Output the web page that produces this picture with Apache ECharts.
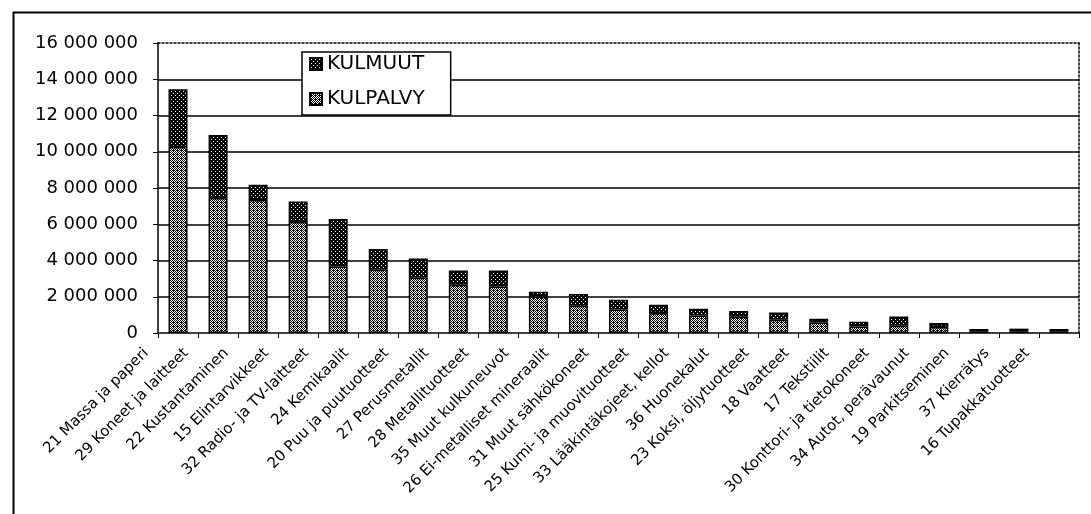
<!DOCTYPE html>
<html>
<head>
<meta charset="utf-8">
<script src="https://cdn.jsdelivr.net/npm/echarts@6/dist/echarts.min.js"></script>
<style>
  html, body { margin: 0; padding: 0; background: #fff; }
  #main { width: 1091px; height: 514px; }
</style>
</head>
<body>
<div id="main"></div>
<script>
// toimialat, järjestetty summan mukaan
var categories = [
  '21 Massa ja paperi', '29 Koneet ja laitteet', '22 Kustantaminen', '15 Elintarvikkeet',
  '32 Radio- ja TV-laitteet', '24 Kemikaalit', '20 Puu ja puutuotteet', '27 Perusmetallit',
  '28 Metallituotteet', '35 Muut kulkuneuvot', '26 Ei-metalliset mineraalit', '31 Muut sähkökoneet',
  '25 Kumi- ja muovituotteet', '33 Lääkintäkojeet, kellot', '36 Huonekalut', '23 Koksi, öljytuotteet',
  '18 Vaatteet', '17 Tekstiilit', '30 Konttori- ja tietokoneet', '34 Autot, perävaunut',
  '19 Parkitseminen', '37 Kierrätys', '16 Tupakkatuotteet'
];
var kulpalvy = [10260000, 7450000, 7340000, 6130000, 3670000, 3490000, 3050000, 2660000,
  2570000, 2020000, 1500000, 1300000, 1100000, 970000, 900000, 730000,
  580000, 360000, 400000, 330000, 100000, 100000, 100000];
var kulmuut = [3190000, 3470000, 840000, 1120000, 2620000, 1150000, 1060000, 790000,
  880000, 250000, 650000, 530000, 460000, 370000, 310000, 400000,
  210000, 260000, 510000, 220000, 120000, 140000, 120000];
var yTicks = [0, 2000000, 4000000, 6000000, 8000000, 10000000, 12000000, 14000000, 16000000];

function makePattern(dark) {
  var c = document.createElement('canvas');
  c.width = 4; c.height = 4;
  var ctx = c.getContext('2d');
  ctx.fillStyle = dark ? '#000' : '#fff';
  ctx.fillRect(0, 0, 4, 4);
  ctx.fillStyle = dark ? '#fff' : '#000';
  for (var x = 0; x < 4; x++) {
    for (var y = 0; y < 4; y++) {
      if (dark) {
        if ((x === 1 && y === 1) || (x === 3 && y === 3)) ctx.fillRect(x, y, 1, 1);
      } else {
        if ((x + y) % 2 === 0 || (x === 1 && y === 2)) ctx.fillRect(x, y, 1, 1);
      }
    }
  }
  return { image: c, repeat: 'repeat' };
}

function fmt(v) {
  return String(v).replace(/\B(?=(\d{3})+(?!\d))/g, ' ');
}

var chart = echarts.init(document.getElementById('main'));
var font = 'DejaVu Sans';

var option = {
  backgroundColor: '#fff',
  animation: false,
  textStyle: { fontFamily: font, color: '#000' },
  graphic: [{
    type: 'rect',
    left: 11, top: 10,
    shape: { width: 1200, height: 700 },
    style: { fill: null, stroke: '#000', lineWidth: 2 },
    silent: true
  }],
  grid: { left: 158, right: 12, top: 43, bottom: 181 },
  legend: {
    data: ['KULMUUT', 'KULPALVY'],
    orient: 'vertical',
    left: 302, top: 52,
    itemWidth: 12, itemHeight: 12, itemGap: 15,
    icon: 'rect',
    padding: [2, 26, 6, 7],
    backgroundColor: '#fff',
    borderColor: '#000', borderWidth: 1.5,
    textStyle: { fontFamily: font, fontSize: 20, color: '#000' },
    z: 10
  },
  xAxis: [{
    type: 'category',
    data: categories,
    axisLine: { lineStyle: { color: '#000', width: 1.5 } },
    axisTick: { show: true, alignWithLabel: false, length: 5, lineStyle: { color: '#000' } },
    axisLabel: {
      interval: 0, rotate: 45, fontSize: 15, color: '#000', fontFamily: font,
      margin: -14, padding: [0, 45, 0, 0]
    }
  }, {
    type: 'category',
    data: categories,
    position: 'top',
    axisLine: { show: true, onZero: false, lineStyle: { color: '#000', width: 1.5, type: [2, 2] } },
    axisTick: { show: false },
    axisLabel: { show: false }
  }],
  yAxis: [{
    type: 'value',
    min: 0, max: 16000000, interval: 2000000,
    axisLine: { show: true, lineStyle: { color: '#000', width: 1.5 } },
    axisTick: { show: true, length: 5, lineStyle: { color: '#000' } },
    axisLabel: { fontSize: 18, color: '#000', fontFamily: font, margin: 20, formatter: fmt },
    splitLine: { show: true, showMaxLine: false, showMinLine: false, lineStyle: { color: '#000', width: 1.5 } }
  }, {
    type: 'value',
    min: 0, max: 16000000, interval: 2000000,
    position: 'right',
    axisLine: { show: true, onZero: false, lineStyle: { color: '#000', width: 1.5, type: [2, 2] } },
    axisTick: { show: false },
    axisLabel: { show: false },
    splitLine: { show: false }
  }],
  series: [{
    name: 'KULPALVY',
    type: 'bar',
    stack: 'kul',
    barWidth: 19,
    data: kulpalvy,
    itemStyle: { color: makePattern(false), borderColor: '#000', borderWidth: 1.5 }
  }, {
    name: 'KULMUUT',
    type: 'bar',
    stack: 'kul',
    barWidth: 19,
    data: kulmuut,
    itemStyle: { color: makePattern(true), borderColor: '#000', borderWidth: 1.5 }
  }]
};
chart.setOption(option);
</script>
</body>
</html>
